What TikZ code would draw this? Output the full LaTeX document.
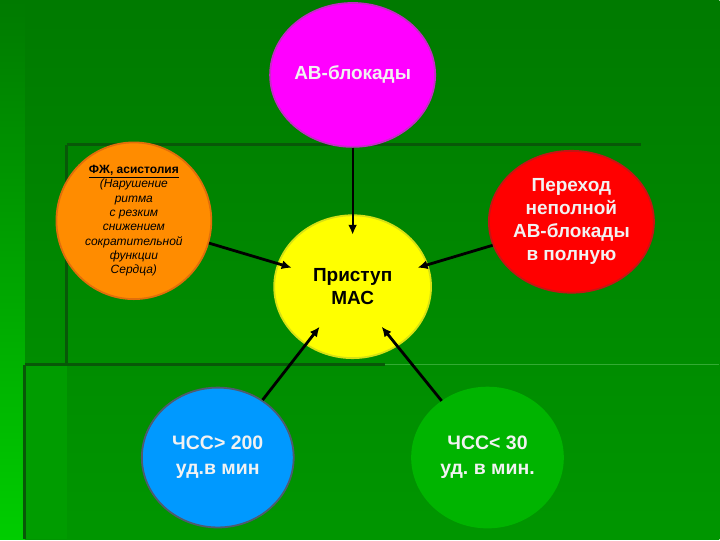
\documentclass[tikz,border=0pt]{standalone}
\usepackage{fontspec}
\setmainfont{Liberation Sans}
\usetikzlibrary{shapes.geometric,arrows.meta}
\definecolor{bgtop}{RGB}{0,122,0}
\definecolor{bgbot}{RGB}{0,150,0}
\definecolor{bgleft}{RGB}{0,205,0}
\definecolor{frame}{RGB}{8,88,8}
\definecolor{pinkfill}{RGB}{255,0,255}
\definecolor{pinkedge}{RGB}{200,40,200}
\definecolor{orangefill}{RGB}{255,140,0}
\definecolor{orangeedge}{RGB}{225,110,10}
\definecolor{yellowfill}{RGB}{255,255,0}
\definecolor{yellowedge}{RGB}{215,225,20}
\definecolor{redfill}{RGB}{255,0,0}
\definecolor{rededge}{RGB}{200,20,20}
\definecolor{bluefill}{RGB}{0,153,255}
\definecolor{blueedge}{RGB}{80,90,110}
\definecolor{greenfill}{RGB}{0,180,0}
\definecolor{lighttext}{RGB}{242,242,242}
\frenchspacing

\begin{document}
\begin{tikzpicture}[x=1pt,y=-1pt]
        \tikzset{
            blob/.style={draw,ellipse,line width=1.8pt,inner sep=0pt,align=center,
                font=\fontsize{19}{23}\selectfont\bfseries},
            link/.style={-{Latex[length=10pt,width=9pt]}, line width=2.8pt, black},
            rule/.style={line width=3pt, color=frame}
        }
        % background of the slide
        \fill[top color=bgtop, bottom color=bgbot] (0,0) rectangle (720,540);
        \fill[top color=bgtop, bottom color=bgleft] (0,0) rectangle (25,540);
        \fill[bgbot!90!bgleft] (25,365) rectangle (67,540);
        \draw[rule] (67,145) -- (642,145);
        \draw[rule] (67,145) -- (67,365);
        \draw[rule] (25,365) -- (385,365);
        \draw[rule] (25,365) -- (25,540);
        \draw[line width=1.5pt, bgbot!80!white] (385,365) -- (720,365);

        \node[blob, fill=pinkfill, draw=pinkedge, text=lighttext,
            minimum width=154pt, minimum height=144pt] (ab) at (353,75) {АВ-блокады};
        \node[blob, fill=orangefill, draw=orangeedge, text=black,
            minimum width=155pt, minimum height=142pt,
            font=\fontsize{12}{14.3}\selectfont\itshape] (fzh) at (134,221)
            {\underline{\textbf{\upshape ФЖ, асистолия}}\\(Нарушение\\ритма\\с резким\\снижением\\сократительной\\функции\\Сердца)};
        \node[blob, fill=yellowfill, draw=yellowedge, text=black,
            minimum width=157pt, minimum height=143pt] (mas) at (353,287) {Приступ\\МАС};
        \node[blob, fill=redfill, draw=rededge, text=lighttext,
            minimum width=156pt, minimum height=142pt] (perehod) at (572,222)
            {Переход\\неполной\\АВ-блокады\\в полную};
        \node[blob, fill=bluefill, draw=blueedge, text=lighttext,
            minimum width=152pt, minimum height=140pt,
            font=\fontsize{19.5}{25}\selectfont\bfseries] (tachy) at (218,458)
            {ЧСС> 200\\уд.в мин};
        \node[blob, fill=greenfill, draw=greenfill, text=lighttext,
            minimum width=151pt, minimum height=140pt,
            font=\fontsize{19.5}{25}\selectfont\bfseries] (brady) at (488,458)
            {ЧСС< 30\\уд. в мин.};

        % arrow tips end inside the yellow circle
        \coordinate (in1) at (353,235);
        \coordinate (in2) at (292,268);
        \coordinate (in3) at (418,268);
        \coordinate (in4) at (320,327);
        \coordinate (in5) at (382,327);
        \draw[link, line width=2pt] (ab) -- (in1);
        \draw[link] (fzh) -- (in2);
        \draw[link] (perehod) -- (in3);
        \draw[link] (tachy) -- (in4);
        \draw[link] (brady) -- (in5);
    \end{tikzpicture}
\end{document}
